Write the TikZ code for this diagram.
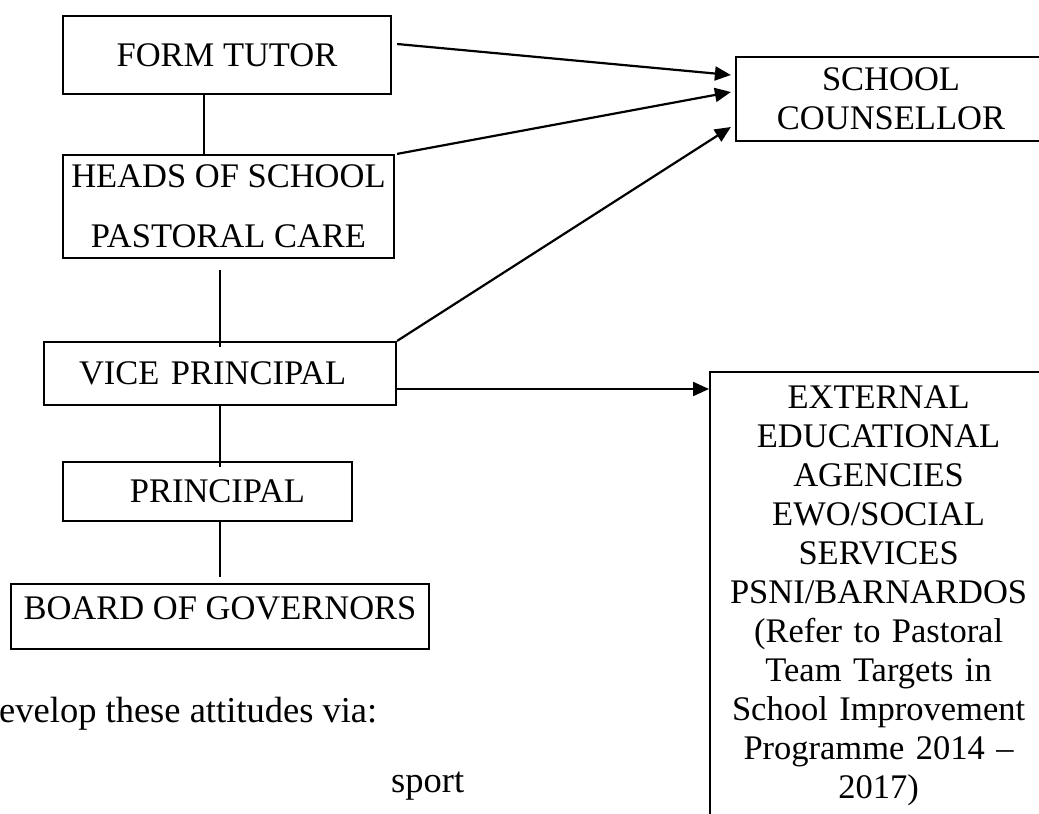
\documentclass[tikz,border=0pt]{standalone}
\usepackage{fontspec}
\setmainfont{Liberation Serif}
\usetikzlibrary{arrows.meta}

\begin{document}
\begin{tikzpicture}[x=1pt, y=-1pt,
  font=\fontsize{34.5}{39}\selectfont,
  box/.style={draw, line width=2.2pt, inner sep=0pt, align=center},
  link/.style={line width=2.2pt},
  arr/.style={line width=2.2pt, -{Triangle[length=16pt,width=14pt]}}]
\path[use as bounding box, fill=white] (0,0) rectangle (1039,814);
\clip (0,0) rectangle (1039,814);

\node[box, minimum width=328pt, minimum height=78pt] (ft) at (227,55) {FORM TUTOR};
\node[box, minimum width=331pt, minimum height=103pt] (hos) at (228.5,206.5) {HEADS OF SCHOOL\\[21pt]PASTORAL CARE};
\node[box, minimum width=352pt, minimum height=63pt, text width=282pt, inner xsep=35pt, align=left] (vp) at (220,373.5) {VICE PRINCIPAL};
\node[box, minimum width=289pt, minimum height=59pt, text width=195pt, inner xsep=47pt, align=right] (pr) at (207.5,491.5) {PRINCIPAL};
\node[box, minimum width=418pt, minimum height=65pt, text depth=16pt] (bg) at (220,616.5) {BOARD OF GOVERNORS};

\node[box, minimum width=310pt, minimum height=84pt] (sc) at (891,99) {SCHOOL\\COUNSELLOR};
\node[box, anchor=north west, text width=327pt, inner xsep=5pt, inner ysep=14pt] (ext) at (709,371) {EXTERNAL\\EDUCATIONAL\\AGENCIES\\EWO/SOCIAL\\SERVICES\\PSNI/BARNARDOS\\(Refer to Pastoral\\Team Targets in\\School Improvement\\Programme 2014 --\\2017)};

\node[anchor=base west, inner sep=0pt, font=\fontsize{36.5}{40}\selectfont] (via) at (-1,722) {evelop these attitudes via:};
\node[anchor=base west, inner sep=0pt, font=\fontsize{36.5}{40}\selectfont] (sport) at (391,792) {sport};

\draw[link] ([xshift=-23pt]ft.south) -- ([xshift=-23pt]ft.south |- hos.north);
\draw[link] ([yshift=-11pt]hos.south -| vp.north) -- ([yshift=-6pt]vp.north);
\draw[link] (vp.south) -- ([yshift=-6pt]pr.north -| vp.south);
\draw[link] (pr.south -| bg.north) -- ([yshift=6pt]bg.north);

\draw[arr] ([xshift=5pt,yshift=11pt]ft.east) -- ([xshift=-4pt,yshift=24pt]sc.west);
\draw[arr] ([xshift=2pt]hos.north east) -- ([xshift=-4pt,yshift=7pt]sc.west);
\draw[arr] (vp.north east) -- ([xshift=-4pt,yshift=-28pt]sc.west);
\draw[arr] ([yshift=-15.5pt]vp.east) -- ([yshift=-15.5pt]vp.east -| ext.west);
\end{tikzpicture}
\end{document}
